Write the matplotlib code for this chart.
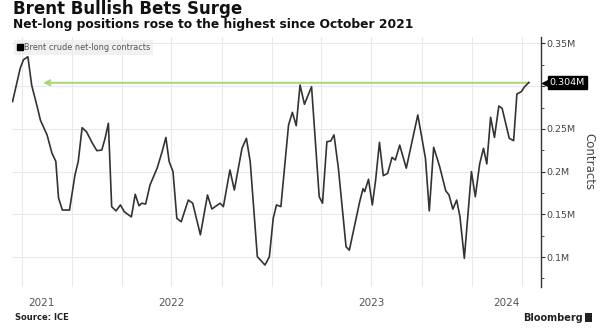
import matplotlib
matplotlib.use("Agg")
import matplotlib.pyplot as plt
import matplotlib.transforms as mtrans
from matplotlib.lines import Line2D
from matplotlib.patches import Rectangle
import pandas as pd

# Brent crude net-long contracts (ICE)
dates = [
    "2021-09-14", "2021-09-28", "2021-10-04", "2021-10-12", "2021-10-19", "2021-10-29",
    "2021-11-04", "2021-11-16", "2021-11-25", "2021-12-02", "2021-12-07", "2021-12-14",
    "2021-12-27", "2022-01-06", "2022-01-12", "2022-01-19", "2022-01-27", "2022-02-07",
    "2022-02-15", "2022-02-24", "2022-03-02", "2022-03-08", "2022-03-14", "2022-03-22",
    "2022-03-30", "2022-04-06", "2022-04-19", "2022-04-26", "2022-05-03", "2022-05-08",
    "2022-05-15", "2022-05-23", "2022-06-05", "2022-06-14", "2022-06-21", "2022-06-27",
    "2022-07-04", "2022-07-11", "2022-07-19", "2022-07-29", "2022-08-01", "2022-08-09",
    "2022-08-23", "2022-09-05", "2022-09-13", "2022-09-28", "2022-10-04", "2022-10-16",
    "2022-10-24", "2022-11-07", "2022-11-15", "2022-11-22", "2022-12-05", "2022-12-19",
    "2022-12-27", "2023-01-03", "2023-01-09", "2023-01-17", "2023-01-31", "2023-02-07",
    "2023-02-14", "2023-02-21", "2023-03-01", "2023-03-14", "2023-03-28", "2023-04-03",
    "2023-04-11", "2023-04-18", "2023-04-24", "2023-05-02", "2023-05-16", "2023-05-22",
    "2023-06-10", "2023-06-16", "2023-06-19", "2023-06-26", "2023-07-03", "2023-07-09",
    "2023-07-16", "2023-07-23", "2023-07-31", "2023-08-08", "2023-08-14", "2023-08-22",
    "2023-09-03", "2023-09-24", "2023-10-08", "2023-10-15", "2023-10-23", "2023-11-03",
    "2023-11-14", "2023-11-20", "2023-11-27", "2023-12-04", "2023-12-10", "2023-12-18",
    "2023-12-31", "2024-01-07", "2024-01-15", "2024-01-22", "2024-01-28", "2024-02-04",
    "2024-02-11", "2024-02-19", "2024-02-25", "2024-03-09", "2024-03-17", "2024-03-23",
    "2024-03-31", "2024-04-06", "2024-04-14",
]
net_long = [
    282000, 321000, 331000, 334500, 301000, 276000,
    260000, 243000, 221500, 212000, 169000, 155000,
    155000, 196000, 212000, 251400, 246700, 233000,
    224500, 225300, 239000, 256600, 159000, 154000,
    161000, 153000, 147000, 173400, 160000, 163000,
    162000, 184300, 204000, 223000, 240000, 211600,
    200000, 145300, 141300, 161000, 166700, 163000,
    126000, 172600, 156200, 163000, 159000, 201900,
    178400, 227300, 239000, 211600, 100400, 90600,
    100400, 145300, 161000, 159000, 254600, 269400,
    253800, 301400, 278800, 299400, 170600, 163000,
    235000, 235800, 243000, 204000, 112000, 108000,
    165000, 180000, 176500, 191000, 161000, 190000,
    234300, 195200, 198000, 216700, 213600, 231000,
    204000, 266300, 215600, 154000, 228500, 205700,
    177600, 172600, 156000, 166700, 147200, 98500,
    200000, 170600, 209000, 227300, 209000, 263600,
    240000, 276800, 274100, 239000, 236200, 290900,
    293600, 299400, 304400,
]
latest_label = "0.304M"
latest_value = 304000
arrow_tip = "2021-11-09"

y_ticks = [100000, 150000, 200000, 250000, 300000, 350000]
y_labels = ["0.1M", "0.15M", "0.2M", "0.25M", "", "0.35M"]
y_minor = [75000, 125000, 175000, 225000, 275000, 325000]
year_labels = ["2021", "2022", "2023", "2024"]

x_start = pd.Timestamp("2021-09-13")
x_end = pd.Timestamp("2024-05-06")

plt.rcParams["font.family"] = ["DejaVu Sans"]

fig = plt.figure(figsize=(6.06, 3.28), dpi=100)
W, H = 606, 328
ax = fig.add_axes([12 / W, 1 - 287 / H, (541 - 12) / W, (287 - 37) / H])

x = pd.to_datetime(dates)
ax.plot(x, net_long, color="#333333", lw=1.2, zorder=3)

ax.set_xlim(x_start, x_end)
ax.set_ylim(64900, 357600)

# quarterly vertical grid, y grid at the major ticks
quarters = pd.date_range("2021-10-01", "2024-04-01", freq="QS")
ax.set_xticks(quarters)
ax.tick_params(axis="x", length=0, labelbottom=False)
ax.grid(True, color="#e9e9e9", lw=0.8, zorder=0)

ax.yaxis.tick_right()
ax.set_yticks(y_ticks)
ax.set_yticklabels(y_labels)
ax.set_yticks(y_minor, minor=True)
ax.tick_params(axis="y", which="major", direction="out", length=3, width=0.8,
               color="#333333", labelsize=6.8, labelcolor="#444444", pad=1)
ax.tick_params(axis="y", which="minor", direction="out", length=2, width=0.6,
               color="#333333")
ax.yaxis.set_label_position("right")
ax.set_ylabel("Contracts", rotation=270, fontsize=8.5, color="#444444", labelpad=14)

for side in ["top", "left", "bottom"]:
    ax.spines[side].set_visible(False)
ax.spines["right"].set_color("#333333")
ax.spines["right"].set_linewidth(1.0)

# year labels centered on the visible part of each year
xt = ax.get_xaxis_transform()
for lab in year_labels:
    y0 = max(pd.Timestamp(lab + "-01-01"), x_start)
    y1 = min(pd.Timestamp(lab + "-12-31"), x_end)
    mid = y0 + (y1 - y0) / 2
    ax.text(mid, -0.064, lab, transform=xt, ha="center", va="center",
            fontsize=7.5, color="#555555")

# green arrow at the latest level
ax.annotate("", xy=(pd.Timestamp(arrow_tip), latest_value),
            xytext=(x[-1], latest_value),
            arrowprops=dict(arrowstyle="->", color="#a5d673", lw=1.4,
                            mutation_scale=9, shrinkA=0, shrinkB=0), zorder=2)

# value tag on the right axis
tag_tr = mtrans.blended_transform_factory(ax.transAxes, ax.transData)
ax.plot([1.012], [latest_value], marker="<", color="black", markersize=7,
        transform=tag_tr, clip_on=False, zorder=5)
ax.text(1.016, latest_value, latest_label, transform=tag_tr, ha="left", va="center",
        fontsize=6.8, color="white",
        bbox=dict(boxstyle="square,pad=0.2", fc="black", ec="black"), zorder=6)

handle = Line2D([], [], marker="s", color="black", ls="none", markersize=4)
leg = ax.legend([handle], ["Brent crude net-long contracts"], loc="upper left",
                bbox_to_anchor=(0.004, 0.99), borderaxespad=0, frameon=True,
                fancybox=False, fontsize=5.9, handlelength=0.6, handletextpad=0.2,
                borderpad=0.4, labelcolor="#555555")
leg.get_frame().set_facecolor("#eeeeee")
leg.get_frame().set_edgecolor("none")

fig.text(13 / W, 1 - 9 / H, "Brent Bullish Bets Surge", fontsize=12,
         fontweight="bold", color="#111111", va="center", ha="left")
fig.text(13 / W, 1 - 24.5 / H, "Net-long positions rose to the highest since October 2021",
         fontsize=8.8, fontweight="bold", color="#111111", va="center", ha="left")
fig.text(15 / W, 1 - 318 / H, "Source: ICE", fontsize=6, fontweight="bold",
         color="#222222", va="center", ha="left")
fig.text(523 / W, 1 - 318 / H, "Bloomberg", fontsize=7, fontweight="bold",
         color="#222222", va="center", ha="left")
fig.patches.append(Rectangle((585 / W, 1 - 322 / H), 7 / W, 9 / H,
                             transform=fig.transFigure, fc="#222222", ec="none"))

fig.savefig("out.png", dpi=100, facecolor="white")
